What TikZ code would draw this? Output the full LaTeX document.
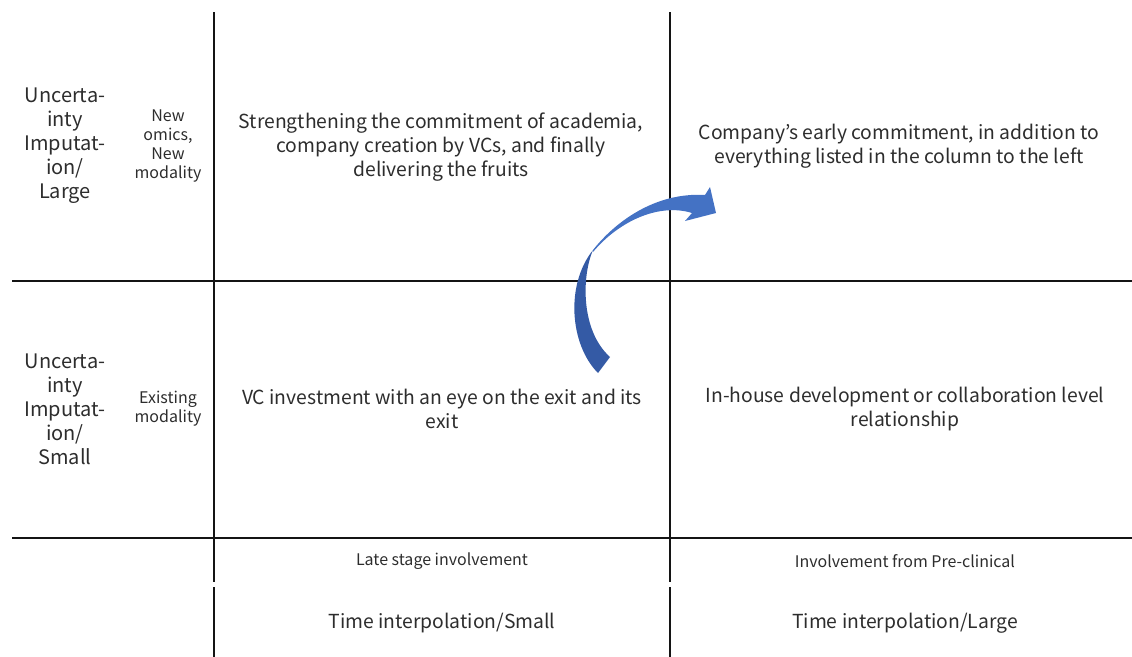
\documentclass[tikz,border=0pt]{standalone}
\usepackage{fontspec}
\setmainfont{Noto Sans CJK JP}
\usepackage{tikz}
\usetikzlibrary{positioning, calc}
\definecolor{gridBlack}{RGB}{20,20,20}
\definecolor{arrowBlue}{RGB}{68,114,196}
\definecolor{arrowDark}{RGB}{52,90,165}
\definecolor{textGrey}{RGB}{45,45,45}
\tikzset{
  gridLine/.style={draw=gridBlack, line width=1.3pt},
  sideText/.style={align=center, text=textGrey, font=\fontsize{15}{18}\selectfont, inner sep=0pt},
  cellText/.style={align=center, text=textGrey, font=\fontsize{14.5}{18}\selectfont, inner sep=0pt},
  smallText/.style={align=center, text=textGrey, font=\fontsize{12}{14.2}\selectfont, inner sep=0pt},
  timeText/.style={align=center, text=textGrey, font=\fontsize{14.5}{18}\selectfont, inner sep=0pt}
}
\begin{document}
\begin{tikzpicture}[x=0.75pt, y=-0.75pt]
    \useasboundingbox (0,0) rectangle (1132,657);
    % grid
    \draw[gridLine] (12,281) -- (1132,281);
    \draw[gridLine] (12,538) -- (1132,538);
    \draw[gridLine] (214,12) -- (214,582);
    \draw[gridLine] (214,587) -- (214,657);
    \draw[gridLine] (670,12) -- (670,582);
    \draw[gridLine] (670,587) -- (670,657);

    % row labels
    \node[sideText] (rowLarge) at (65,146) {Uncerta-\\inty\\Imputat-\\ion/\\Large};
    \node[smallText] (newOmics) at (168,146) {New\\omics,\\New\\modality};
    \node[sideText] (rowSmall) at (65,409) {Uncerta-\\inty\\Imputat-\\ion/\\Small};
    \node[smallText] (oldModality) at (168,409) {Existing\\modality};

    % cells
    \node[cellText] (cellTL) at (441,147) {Strengthening the commitment of academia,\\company creation by VCs, and finally\\delivering the fruits};
    \node[cellText] (cellTR) at (899,146) {Company’s early commitment, in addition to\\everything listed in the column to the left};
    \node[cellText] (cellBL) at (442,409) {VC investment with an eye on the exit and its\\exit};
    \node[cellText] (cellBR) at (905,409) {In-house development or collaboration level\\relationship};

    % column labels
    \node[smallText] (lateStage) at (442,561) {Late stage involvement};
    \node[smallText] (preClinical) at (905,561) {Involvement from Pre-clinical};
    \node[timeText] (timeSmall) at (442,623) {Time interpolation/Small};
    \node[timeText] (timeLarge) at (905,623) {Time interpolation/Large};

    % curved block arrow
    \fill[arrowDark] (598,373) .. controls (570,345) and (565,285) .. (593,250)
      .. controls (582,275) and (580,330) .. (610,357) -- cycle;
    \fill[arrowBlue] (593,250) .. controls (615,222) and (655,192) .. (705,195)
      -- (710,187) -- (716,213) -- (685,221) -- (692,213)
      .. controls (660,203) and (620,220) .. (593,252) -- cycle;
\end{tikzpicture}
\end{document}
